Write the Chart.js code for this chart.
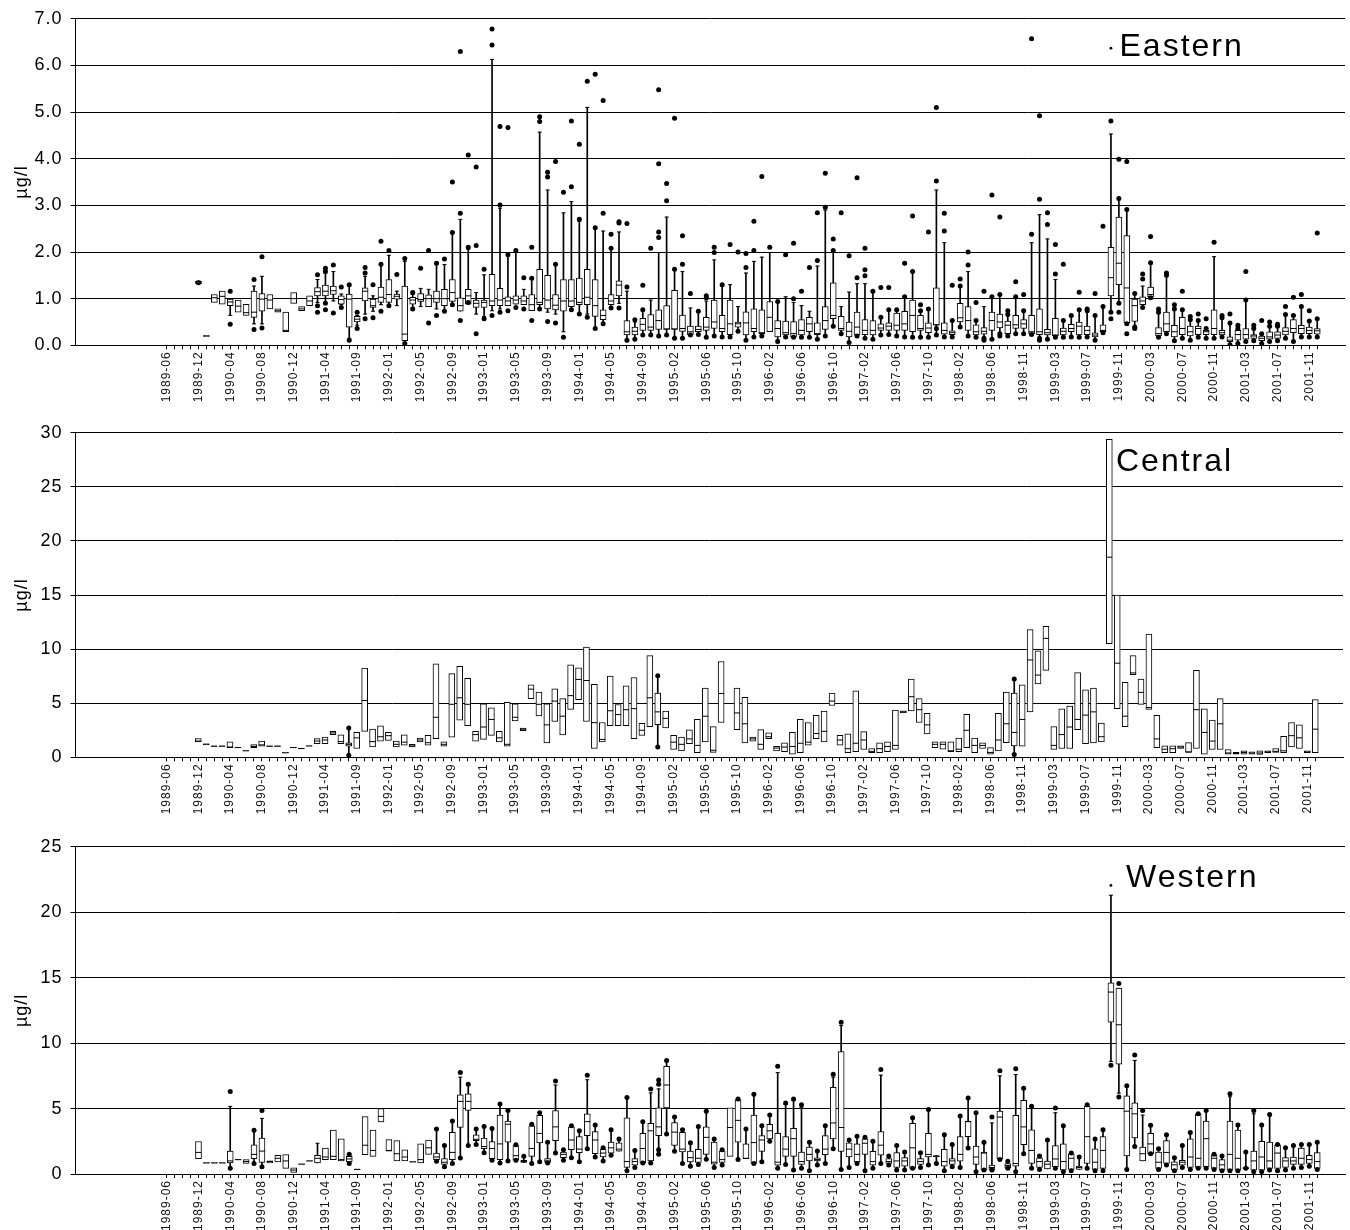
<!DOCTYPE html>
<html>
<head>
<meta charset="utf-8">
<script src="https://cdn.jsdelivr.net/npm/chart.js@4.4.1/dist/chart.umd.min.js"></script>
<style>
  body { margin: 0; background: #fff; width: 1350px; height: 1230px; position: relative; overflow: hidden; }
  canvas { position: absolute; left: 0; }
</style>
</head>
<body>
<canvas id="east" width="1350" height="412" style="top:0px"></canvas>
<canvas id="central" width="1350" height="412" style="top:414px"></canvas>
<canvas id="west" width="1350" height="402" style="top:828px"></canvas>
<script>
// sampling months run along x as category index 0..159; only every 4th one is labelled
const NCAT = 160;
const FIRST = 15;          // first category with samples (1989-12)
const TICK_FIRST = 11;     // category of 1989-06
const TICK_LAST = 156;
const tickLabels = ['1989-06','1989-12','1990-04','1990-08','1990-12','1991-04','1991-09','1992-01','1992-05','1992-09',
  '1993-01','1993-05','1993-09','1994-01','1994-05','1994-09','1995-02','1995-06','1995-10','1996-02',
  '1996-06','1996-10','1997-02','1997-06','1997-10','1998-02','1998-06','1998-11','1999-03','1999-07',
  '1999-11','2000-03','2000-07','2000-11','2001-03','2001-07','2001-11'];

// box rows: [whisker low, q1, median, q3, whisker high], row k = category FIRST + k
const eastStats = [
  [1.30,1.32,1.35,1.37,1.38],[0.19,0.19,0.20,0.21,0.21],[0.92,0.92,1.02,1.09,1.09],[0.88,0.88,1.05,1.16,1.16],[0.64,0.85,0.93,0.99,0.99], // 15
  [0.71,0.71,0.84,0.97,0.97],[0.64,0.64,0.70,0.88,0.88],[0.46,0.60,0.71,1.16,1.27],[0.46,0.73,0.99,1.11,1.48],[0.78,0.78,0.97,1.09,1.09], // 20
  [0.71,0.71,0.74,0.78,0.78],[0.29,0.29,0.32,0.71,0.71],[0.90,0.90,1.00,1.13,1.13],[0.74,0.74,0.78,0.83,0.83],[0.85,0.85,0.95,1.06,1.06], // 25
  [0.92,1.06,1.15,1.24,1.41],[0.92,1.06,1.16,1.29,1.55],[0.95,1.09,1.17,1.27,1.58],[0.87,0.88,0.98,1.06,1.10],[0.15,0.39,0.99,1.10,1.27], // 30
  [0.43,0.50,0.56,0.62,0.64],[0.67,0.95,1.16,1.23,1.48],[0.73,0.81,0.85,0.99,1.06],[0.87,0.92,1.03,1.25,1.72],[0.85,0.92,1.09,1.41,1.93], // 35
  [0.85,0.99,1.05,1.10,1.16],[0.04,0.10,0.24,1.27,1.80],[0.81,0.88,0.97,1.03,1.09],[0.83,0.94,0.98,1.11,1.22],[0.83,0.83,1.00,1.08,1.20], // 40
  [0.78,0.92,1.00,1.16,1.76],[0.73,0.85,1.00,1.20,1.73],[0.87,0.94,1.13,1.41,2.42],[0.73,0.73,0.85,1.02,2.70],[0.88,0.88,1.06,1.20,2.06], // 45
  [0.67,0.81,0.90,0.97,1.13],[0.62,0.81,0.92,0.97,1.51],[0.74,0.85,0.95,1.52,6.13],[0.78,0.85,0.97,1.22,2.94],[0.85,0.85,0.95,1.04,1.94], // 50
  [0.88,0.88,0.97,1.06,2.00],[0.87,0.87,0.95,1.06,1.20],[0.74,0.74,0.87,1.09,1.41],[0.78,0.87,0.92,1.63,4.57],[0.71,0.78,0.97,1.50,3.33], // 55
  [0.67,0.76,0.86,1.09,1.74],[0.29,0.73,0.95,1.41,2.84],[0.76,0.83,0.95,1.41,3.08],[0.67,0.87,0.92,1.44,2.66],[0.67,0.87,1.03,1.63,5.10], // 60
  [0.36,0.62,0.85,1.41,2.52],[0.46,0.55,0.64,0.76,2.45],[0.83,0.87,0.95,1.09,2.08],[0.90,1.06,1.29,1.38,2.43],[0.11,0.22,0.29,0.53,1.16], // 65
  [0.13,0.22,0.30,0.39,0.50],[0.22,0.32,0.45,0.58,0.74],[0.22,0.32,0.39,0.66,0.97],[0.20,0.34,0.53,0.76,1.99],[0.22,0.34,0.35,0.85,2.75], // 70
  [0.15,0.34,0.35,1.18,1.63],[0.15,0.30,0.36,0.65,1.58],[0.22,0.23,0.29,0.41,0.80],[0.23,0.29,0.34,0.41,0.73],[0.17,0.32,0.39,0.60,0.95], // 75
  [0.20,0.36,0.50,0.97,1.83],[0.18,0.29,0.36,0.64,1.27],[0.18,0.23,0.46,0.97,1.30],[0.30,0.39,0.46,0.50,0.83],[0.11,0.22,0.48,0.72,1.55], // 80
  [0.18,0.29,0.36,0.78,1.80],[0.20,0.25,0.27,0.76,1.89],[0.29,0.29,0.60,0.94,1.99],[0.11,0.18,0.36,0.53,0.92],[0.18,0.22,0.27,0.52,1.04], // 85
  [0.17,0.18,0.25,0.51,0.92],[0.17,0.22,0.32,0.55,0.85],[0.17,0.29,0.46,0.60,0.73],[0.13,0.23,0.25,0.48,1.70],[0.20,0.34,0.53,0.83,2.90], // 90
  [0.41,0.57,0.64,1.34,2.03],[0.25,0.32,0.36,0.62,0.83],[0.06,0.18,0.30,0.50,1.14],[0.20,0.22,0.39,0.71,1.32],[0.15,0.23,0.32,0.55,1.32], // 95
  [0.13,0.22,0.32,0.53,1.16],[0.22,0.32,0.37,0.46,0.60],[0.23,0.32,0.41,0.48,0.76],[0.20,0.32,0.43,0.69,0.74],[0.18,0.32,0.46,0.73,1.04], // 100
  [0.17,0.29,0.64,0.97,1.58],[0.17,0.32,0.36,0.64,0.74],[0.17,0.27,0.37,0.48,0.78],[0.22,0.43,0.44,1.23,3.33],[0.18,0.24,0.32,0.48,2.20], // 105
  [0.18,0.23,0.27,0.31,0.53],[0.39,0.50,0.59,0.90,1.27],[0.20,0.32,0.53,0.83,1.58],[0.17,0.22,0.29,0.44,0.53],[0.11,0.24,0.30,0.38,0.83], // 110
  [0.13,0.32,0.53,0.71,1.04],[0.20,0.37,0.50,0.67,1.09],[0.20,0.25,0.43,0.52,0.66],[0.25,0.36,0.44,0.64,1.04],[0.25,0.36,0.46,0.55,0.74], // 115
  [0.23,0.25,0.29,0.64,2.20],[0.11,0.23,0.29,0.78,2.80],[0.13,0.22,0.27,0.34,2.28],[0.17,0.20,0.22,0.58,1.41],[0.17,0.22,0.30,0.37,0.53], // 120
  [0.18,0.29,0.36,0.45,0.64],[0.17,0.22,0.41,0.50,0.76],[0.18,0.23,0.32,0.41,0.74],[0.11,0.18,0.22,0.27,0.64],[0.27,0.29,0.32,0.44,0.83], // 125
  [0.71,1.06,1.45,2.10,4.53],[0.90,1.30,1.76,2.75,3.15],[0.46,0.48,1.23,2.35,2.91],[0.39,0.51,0.85,0.99,1.11],[0.81,0.87,0.95,1.04,1.27], // 130
  [1.02,1.04,1.09,1.25,1.77],[0.17,0.20,0.25,0.38,0.71],[0.25,0.29,0.46,0.71,1.50],[0.10,0.18,0.29,0.43,0.78],[0.15,0.23,0.36,0.60,0.76], // 135
  [0.11,0.20,0.29,0.41,0.55],[0.17,0.23,0.36,0.41,0.53],[0.15,0.23,0.29,0.32,0.36],[0.15,0.23,0.36,0.76,1.90],[0.18,0.22,0.27,0.32,0.59], // 140
  [0.01,0.08,0.11,0.18,0.48],[0.04,0.11,0.23,0.32,0.36],[0.08,0.13,0.23,0.36,0.97],[0.10,0.15,0.20,0.23,0.36],[0.04,0.10,0.15,0.20,0.25], // 145
  [0.08,0.13,0.18,0.29,0.41],[0.10,0.15,0.22,0.29,0.41],[0.15,0.22,0.30,0.38,0.66],[0.08,0.27,0.36,0.55,0.64],[0.18,0.25,0.36,0.43,0.83], // 150
  [0.18,0.25,0.32,0.39,0.52],[0.18,0.24,0.31,0.36,0.57] // 155
];
// outliers: [category, values...]
const eastOutliers = [
  [19,1.16,0.45],[22,1.41,0.34],[23,1.90,0.37],[30,1.51,0.85,0.71],[31,1.65,1.58,0.90,0.76],[32,1.72,0.69],[33,1.25,0.81],[34,1.30,0.11],
  [35,0.71,0.36],[36,1.67,1.55,0.57],[37,1.30,0.59],[38,2.23,1.74,0.73],[39,2.03,0.85],[40,1.52],[41,1.86,0.04],[42,1.13,0.78],[43,1.65],
  [44,2.03,0.48],[45,1.76,0.64],[46,1.85,0.73],[47,3.50,2.42,0.87],[48,6.30,2.83,0.53],[49,4.08,2.10,0.92],[50,3.82,2.14,0.25],[51,1.63,0.57],
  [52,6.78,6.44,0.64],[53,4.69,3.01,0.71],[54,4.67,1.94,0.74],[55,2.03,0.81],[56,1.45,0.78],[57,2.10,1.44,0.53],[58,4.90,4.80,0.78],
  [59,3.71,3.61,0.51],[60,3.94,1.74,0.48],[61,3.28,0.17],[62,4.81,3.40,0.76],[63,4.31,2.70,0.67],[64,5.66,0.60],[65,5.81,2.52,0.36],
  [66,5.25,2.83,0.46],[67,2.38,2.08,0.80],[68,2.65,2.62,0.80],[69,2.61,1.25,0.11],[70,0.55,0.13],[71,1.29,0.76,0.22],[72,2.08,0.22],
  [73,5.48,3.89,2.43,2.31,0.20],[74,3.47,3.10,0.22],[75,4.87,1.63,0.15],[76,2.35,1.74,0.15],[77,1.11,0.22],[78,0.73,0.23],[79,1.06,1.02,0.17],
  [80,2.10,1.99,0.20],[81,1.30,0.18],[82,2.16,0.18],[83,2.00,0.30],[84,1.97,1.67,0.11],[85,2.66,2.03,0.18],[86,3.62,0.20],[87,2.10],
  [88,0.94,0.08],[89,1.94,0.18],[90,2.19,1.00,0.17],[91,1.16,0.17],[92,1.67,0.17],[93,2.84,1.82,0.13],[94,3.69,2.96,0.20],[95,2.28,2.03,0.41],
  [96,2.84,0.25],[97,1.92,0.06],[98,3.59,1.45,0.20],[99,2.08,1.62,1.49,0.15],[100,1.16,0.13],[101,1.24,0.60,0.22],[102,1.24,0.76,0.23],
  [103,0.76,0.20],[104,1.76,1.04,0.18],[105,2.77,1.58,0.17],[106,0.87,0.74,0.17],[107,2.43,0.78,0.17],[108,5.10,3.52,0.36,0.22],
  [109,2.83,2.45,0.18],[110,1.29,0.53,0.18],[111,1.42,1.27,0.39],[112,2.00,1.72,0.20],[113,0.92,0.53,0.17],[114,1.16,0.15,0.11],
  [115,3.22,1.04,0.13],[116,2.75,1.09,0.25,0.20],[117,0.74,0.66,0.20],[118,1.36,1.04,0.25],[119,1.09,0.74,0.25],[120,6.57,2.38,0.23],
  [121,4.92,3.13,0.15,0.11],[122,2.84,2.59,0.13],[123,2.16,1.53,0.17],[124,1.74,0.53,0.17],[125,0.64,0.18],[126,1.14,0.76,0.17],
  [127,0.78,0.74,0.18],[128,1.11,0.64,0.11],[129,2.55,0.83,0.27],[130,4.81,0.71,0.57],[131,3.99,3.15,0.90,0.71],[132,3.94,2.91,0.46,0.25],
  [133,1.11,0.39,0.36],[134,1.53,1.42,0.81],[135,2.33,1.77,1.02],[136,0.78,0.71,0.17],[137,1.55,1.50,0.25],[138,0.87,0.78,0.10],
  [139,1.16,0.76,0.15],[140,0.62,0.55,0.11],[141,0.67,0.53,0.17],[142,0.57,0.36,0.15],[143,2.21,0.15],[144,0.64,0.59,0.18],
  [145,0.67,0.48,0.01],[146,0.43,0.36,0.04],[147,1.58,0.97,0.08],[148,0.43,0.36,0.10],[149,0.53,0.25,0.04],[150,0.50,0.41,0.08],
  [151,0.45,0.41,0.10],[152,0.83,0.66,0.15],[153,1.03,0.64,0.08],[154,1.09,0.83,0.18],[155,0.74,0.52,0.18],[156,2.41,0.57,0.18]
];
const eastMarks = [[130, 6.37]];

const centralStats = [
  [1.42,1.42,1.50,1.72,1.72],[1.15,1.15,1.20,1.25,1.25],[1.00,1.00,1.02,1.05,1.05],[1.00,1.00,1.02,1.05,1.05],[0.90,0.90,0.95,1.42,1.42], // 15
  [0.88,0.88,0.90,0.92,0.92],[0.58,0.58,0.60,0.62,0.62],[0.90,0.90,1.00,1.17,1.17],[1.02,1.02,1.15,1.50,1.50],[1.00,1.00,1.02,1.05,1.05], // 20
  [1.00,1.00,1.02,1.05,1.05],[0.40,0.40,0.42,0.45,0.45],[0.88,0.88,0.90,0.92,0.92],[0.79,0.79,0.81,0.83,0.83],[1.03,1.03,1.05,1.07,1.07], // 25
  [1.27,1.27,1.50,1.72,1.72],[1.27,1.27,1.60,1.87,1.87],[2.10,2.10,2.25,2.40,2.40],[1.27,1.27,1.45,2.08,2.08],[0.20,1.02,1.20,1.33,2.70], // 30
  [0.81,0.81,1.80,2.32,2.32],[2.40,2.40,5.25,8.25,8.25],[0.96,0.96,1.45,2.62,2.62],[1.50,1.50,1.90,2.92,2.92],[1.57,1.57,2.00,2.32,2.32], // 35
  [0.96,0.96,1.20,1.50,1.50],[1.11,1.11,1.40,2.08,2.08],[0.96,0.96,1.05,1.20,1.20],[1.42,1.42,1.60,1.78,1.78],[1.11,1.11,1.35,2.02,2.02], // 40
  [1.72,1.72,3.70,8.64,8.64],[1.02,1.02,1.20,1.42,1.42],[1.87,1.87,4.90,7.74,7.74],[3.43,3.43,5.50,8.40,8.40],[2.92,2.92,4.90,7.29,7.29], // 45
  [1.50,1.50,2.10,2.40,2.40],[1.66,1.66,2.80,4.94,4.94],[2.02,2.02,3.50,4.58,4.58],[1.42,1.42,1.80,2.40,2.40],[1.02,1.02,1.20,5.09,5.09], // 50
  [3.37,3.37,3.70,4.94,4.94],[2.47,2.47,2.60,2.71,2.71],[5.42,5.42,6.30,6.69,6.69],[3.83,3.83,4.90,6.02,6.02],[1.33,1.33,3.00,4.94,4.94], // 55
  [3.31,3.31,5.20,6.33,6.33],[2.08,2.08,3.80,5.42,5.42],[4.43,4.43,5.70,8.55,8.55],[5.33,5.33,7.20,8.28,8.28],[3.31,3.31,7.10,10.20,10.20], // 60
  [0.81,0.81,3.20,6.75,6.75],[1.42,1.42,1.65,3.22,3.22],[2.92,2.92,4.30,7.50,7.50],[2.92,2.92,3.95,4.88,4.88],[2.92,2.92,4.40,6.60,6.60], // 65
  [1.72,1.72,4.50,7.38,7.38],[2.02,2.02,2.50,3.13,3.13],[2.83,2.83,5.50,9.40,9.40],[0.96,3.01,4.20,5.93,7.53],[2.71,2.71,3.60,4.28,4.28], // 70
  [0.72,0.72,1.40,2.02,2.02],[0.60,0.60,1.20,1.87,1.87],[1.27,1.27,1.70,2.53,2.53],[0.42,0.42,1.10,3.52,3.52],[1.42,1.42,3.80,6.39,6.39], // 75
  [0.45,0.45,0.65,2.83,2.83],[3.22,3.22,5.90,8.86,8.86],null,[2.56,2.56,4.10,6.39,6.39],[1.33,1.33,3.10,5.54,5.54], // 80
  [1.50,1.50,1.70,1.87,1.87],[0.72,0.72,1.20,2.56,2.56],[1.72,1.72,1.90,2.26,2.26],[0.60,0.60,0.85,1.02,1.02],[0.51,0.51,0.95,1.33,1.33], // 85
  [0.30,0.30,1.00,2.32,2.32],[0.42,0.42,1.30,3.52,3.52],[1.11,1.11,1.40,3.22,3.22],[1.72,1.72,2.20,3.89,3.89],[1.42,1.42,2.40,4.28,4.28], // 90
  [4.79,4.79,5.20,5.93,5.93],[1.11,1.11,1.60,2.02,2.02],[0.42,0.42,0.80,2.17,2.17],[0.51,0.51,1.30,6.15,6.15],[0.72,0.72,1.60,2.38,2.38], // 95
  [0.42,0.42,0.55,0.81,0.81],[0.42,0.42,0.80,1.33,1.33],[0.51,0.51,1.00,1.42,1.42],[0.72,0.72,1.10,4.37,4.37],[4.10,4.10,4.20,4.30,4.30], // 100
  [4.28,4.28,5.60,7.23,7.23],[3.22,3.22,4.40,5.42,5.42],[2.17,2.17,3.00,4.07,4.07],[0.90,0.90,1.20,1.42,1.42],[0.75,0.75,1.20,1.42,1.42], // 105
  [0.51,0.51,0.60,1.42,1.42],[0.51,0.51,0.75,1.78,1.78],[0.90,0.90,2.50,3.98,3.98],[0.42,0.42,1.10,1.78,1.78],[0.81,0.81,1.10,1.33,1.33], // 110
  [0.30,0.30,0.45,0.90,0.90],[0.60,0.60,1.60,4.07,4.07],[1.36,1.36,3.10,6.02,6.02],[0.27,1.05,2.30,5.93,7.23],[1.02,1.02,3.50,6.69,6.69], // 115
  [4.19,4.19,9.00,11.80,11.80],[6.78,6.78,7.60,9.85,9.85],[8.04,8.04,11.00,12.10,12.10],[0.72,0.72,1.10,2.83,2.83],[0.81,0.81,2.10,4.49,4.49], // 120
  [0.81,0.81,2.80,4.73,4.73],[2.56,2.56,3.50,7.83,7.83],[1.27,1.27,3.90,6.23,6.23],[1.33,1.33,4.20,6.39,6.39],[1.42,1.42,1.90,3.16,3.16], // 125
  [10.50,10.50,18.50,29.40,29.40],[4.49,4.49,8.70,15.00,15.00],[2.83,2.83,3.80,6.93,6.93],[7.65,7.65,7.80,9.40,9.40],[4.88,4.88,6.00,7.23,7.23], // 130
  [4.43,4.43,4.60,11.40,11.40],[0.90,0.90,1.70,3.89,3.89],[0.42,0.42,0.75,1.05,1.05],[0.42,0.42,0.80,1.05,1.05],[0.81,0.81,0.95,1.05,1.05], // 135
  [0.45,0.45,0.50,1.36,1.36],[0.81,0.81,4.40,8.04,8.04],[0.30,0.30,2.30,4.49,4.49],[0.72,0.72,1.50,3.43,3.43],[0.72,0.72,3.10,5.42,5.42], // 140
  [0.30,0.30,0.40,0.72,0.72],[0.30,0.30,0.35,0.45,0.45],[0.30,0.30,0.45,0.60,0.60],[0.30,0.30,0.40,0.51,0.51],[0.27,0.27,0.40,0.60,0.60], // 145
  [0.42,0.42,0.50,0.60,0.60],[0.45,0.45,0.55,0.81,0.81],[0.42,0.42,0.60,1.93,1.93],[0.96,0.96,2.00,3.22,3.22],[0.81,0.81,1.80,3.01,3.01], // 150
  [0.42,0.42,0.50,0.60,0.60],[0.42,0.42,2.60,5.33,5.33] // 155
];
const centralOutliers = [[34,2.70,0.20],[73,7.53,0.96],[118,7.23,0.27]];

const westStats = [
  [1.18,1.18,1.65,2.48,2.48],[0.83,0.83,0.85,0.87,0.87],[0.83,0.83,0.85,0.87,0.87],[0.83,0.83,0.85,0.87,0.87],[0.43,0.85,1.00,1.75,5.17], // 15
  [1.08,1.08,1.10,1.12,1.12],[0.80,0.80,0.95,1.10,1.10],[0.80,1.18,1.50,2.22,3.30],[0.55,0.88,1.75,2.75,4.25],[0.85,0.85,0.95,1.00,1.00], // 20
  [0.93,0.93,1.20,1.43,1.43],[0.43,0.43,1.00,1.48,1.48],[0.13,0.13,0.30,0.48,0.48],[0.73,0.73,0.75,0.77,0.77],[0.98,0.98,1.00,1.02,1.02], // 25
  [0.85,0.85,1.20,1.43,2.35],[1.10,1.10,1.30,1.98,1.98],[1.10,1.10,1.35,3.35,3.35],[1.00,1.00,1.10,2.68,2.68],[0.80,0.93,1.15,1.35,1.50], // 30
  [0.33,0.33,0.35,0.37,0.37],[1.48,1.48,2.20,4.38,4.38],[1.35,1.35,1.80,3.35,3.35],[3.98,3.98,4.40,5.00,5.00],[1.75,1.75,1.80,2.63,2.63], // 35
  [1.00,1.00,1.55,2.55,2.55],[1.00,1.00,1.30,1.85,1.85],[0.91,0.91,0.93,0.95,0.95],[0.85,0.85,1.10,2.30,2.30],[1.50,1.50,2.00,2.60,2.60], // 40
  [0.98,1.10,1.30,1.60,3.43],[0.55,0.73,0.90,1.18,2.18],[0.80,1.10,1.65,3.18,4.05],[1.23,3.55,5.55,6.05,7.40],[2.18,4.85,5.55,6.13,6.80], // 45
  [2.25,2.55,2.65,3.00,3.43],[1.63,1.93,2.10,2.75,3.63],[1.05,1.18,1.95,2.48,3.43],[0.85,1.10,2.30,4.50,5.35],[1.00,2.43,3.80,4.05,4.85], // 50
  [1.05,1.05,1.40,2.18,2.23],[0.88,0.88,0.95,1.05,1.35],[0.80,1.35,1.95,3.68,3.80],[0.93,2.38,3.10,4.48,4.68],[0.85,0.88,1.00,1.18,2.43], // 55
  [1.60,2.55,3.60,4.85,6.80],[1.05,1.25,1.50,1.68,1.85],[1.25,1.85,2.60,3.60,3.68],[0.93,1.63,1.90,2.85,3.30],[1.93,2.93,4.00,4.60,7.20], // 60
  [1.30,1.55,2.60,3.25,3.75],[1.00,1.30,1.60,1.93,2.00],[1.43,1.60,2.00,2.43,3.38],[1.75,1.75,1.90,2.38,2.68],[0.25,0.50,0.95,4.30,5.85], // 65
  [0.50,0.68,0.95,1.18,1.80],[0.85,0.85,1.95,3.10,4.00],[0.85,1.00,3.30,3.88,6.20],[1.50,2.93,3.60,5.05,6.50],[3.05,5.05,6.80,8.23,8.68], // 70
  [1.73,2.18,3.20,3.93,4.35],[0.80,1.68,1.90,3.18,3.38],[0.60,0.93,1.25,1.75,2.38],[0.73,0.88,1.20,1.88,3.63],[1.13,1.50,2.80,3.60,4.80], // 75
  [0.50,0.75,0.90,2.43,2.68],[0.68,0.88,1.10,1.75,1.85],[1.35,1.35,3.55,5.05,5.05],[1.10,2.43,4.10,5.68,5.73],[1.18,1.18,1.20,2.30,3.43], // 80
  [0.80,0.80,2.40,4.50,6.10],[0.93,1.73,2.60,2.93,3.68],[2.50,2.68,3.30,3.80,4.50],[0.43,0.68,0.90,3.10,7.75],[0.73,1.35,1.90,2.85,5.30], // 85
  [0.30,1.35,2.70,3.48,5.60],[0.43,0.73,0.95,1.68,5.10],[0.25,1.00,1.50,2.05,2.43],[0.68,1.00,1.10,1.23,1.75],[0.80,1.48,1.90,2.93,3.68], // 90
  [1.93,2.68,3.90,6.63,7.40],[0.35,1.73,3.55,9.35,11.35],[0.50,1.30,1.90,2.38,2.60],[0.80,0.93,1.50,2.30,2.88],[0.25,1.50,2.35,2.68,2.80], // 95
  [0.43,0.68,0.95,1.73,2.50],[0.80,1.43,2.20,3.25,7.55],[0.68,0.80,0.95,1.18,1.38],[0.30,0.50,1.00,1.63,2.18],[0.30,0.60,1.00,1.25,1.68], // 100
  [0.43,0.43,2.00,3.88,4.30],[0.50,0.73,0.95,1.18,1.63],[0.68,1.30,1.50,3.10,4.93],[0.80,1.30,1.35,1.40,1.40],[0.25,0.60,0.95,1.88,3.00], // 105
  [0.55,0.73,1.00,1.18,2.25],[0.50,0.98,1.50,2.85,4.43],[1.98,2.85,4.00,4.05,5.80],[0.18,0.73,1.30,2.13,4.68],[0.30,0.30,1.60,1.68,2.43], // 110
  [0.30,0.30,0.50,0.68,3.90],[1.10,1.18,4.35,4.80,7.50],[0.43,0.48,0.65,0.80,0.98],[0.18,0.60,0.80,4.48,7.60],[1.55,2.25,3.60,5.63,6.55], // 115
  [0.43,0.80,1.80,3.38,5.18],[0.35,0.50,0.95,1.23,1.38],[0.38,0.38,0.75,0.98,2.60],[0.43,0.55,1.15,2.18,4.68],[0.18,0.30,0.95,2.30,3.68], // 120
  [0.25,0.35,1.20,1.55,1.60],[0.35,0.35,0.50,0.60,1.30],[0.43,0.80,2.85,5.18,5.30],[0.25,0.35,0.90,1.93,2.68],[0.25,0.43,1.80,2.85,3.38], // 125
  [8.60,11.60,13.90,14.60,21.30],[6.18,8.40,11.40,14.20,14.20],[0.35,1.38,4.80,5.98,6.70],[2.10,2.75,4.60,5.43,8.68],[1.00,1.00,1.55,2.05,4.50], // 130
  [1.55,1.55,2.30,3.10,3.73],[0.35,0.43,0.90,1.68,1.93],[0.68,0.80,1.65,2.55,3.00],[0.25,0.30,0.70,0.93,1.25],[0.50,0.68,0.90,1.05,2.18], // 135
  [0.35,0.50,1.30,2.68,3.18],[0.43,0.50,1.20,4.60,4.60],[0.43,0.55,2.70,4.05,4.85],[0.35,0.43,1.20,1.43,1.50],[0.25,0.30,0.70,1.10,1.38], // 140
  [0.25,0.30,1.50,4.05,5.90],[0.25,0.30,1.20,3.35,3.75],[0.43,0.43,0.45,0.50,1.68],[0.18,0.30,1.00,1.75,4.60],[0.18,0.30,1.30,2.50,3.75], // 145
  [0.30,0.43,1.00,2.43,4.55],[0.25,0.43,1.60,2.23,2.25],[0.30,0.50,1.00,1.25,2.00],[0.43,0.73,1.00,1.30,2.18],[0.50,0.73,1.20,1.98,2.25], // 150
  [0.60,0.80,1.10,1.43,2.25],[0.35,0.43,0.95,1.63,2.43] // 155
];
const westOutliers = [
  [19,6.30,0.43],[22,3.35,0.80],[23,4.85,0.55],[34,1.50,0.80],[45,3.43,0.98],[46,2.18,0.55],[47,4.05,0.80],[48,7.75,1.23],[49,6.85,2.18],
  [50,3.43,2.25],[51,3.63,1.63],[52,3.48,1.05],[53,5.35,0.85],[54,4.85,1.00],[55,2.23,1.05],[56,1.35],[57,3.80,0.80],[58,4.68,0.93],
  [59,2.43,0.85],[60,7.10,1.60],[61,1.85,1.05],[62,3.68,1.25],[63,3.30,0.93],[64,7.55,1.93],[65,3.75,1.30],[66,2.00,1.00],[67,3.38,1.43],
  [68,2.68],[69,5.85,0.25],[70,1.80,0.50],[71,4.00,0.85],[72,6.50,0.85],[73,7.18,6.85,1.85,1.50],[74,8.68,3.05],[75,4.35,1.73],
  [76,3.38,0.80],[77,2.38,0.60],[78,3.63,0.73],[79,4.80,1.13],[80,2.68,0.50],[81,1.85,0.68],[83,5.73,1.10],[84,3.43],[85,6.10,0.80],
  [86,3.68,0.93],[87,4.50,2.50],[88,8.23,0.43],[89,5.43,0.73],[90,5.73,0.30],[91,5.30,0.43],[92,2.43,0.25],[93,1.75,0.68],[94,3.68,0.80],
  [95,7.63,1.93],[96,11.60,0.35],[97,2.60,0.50],[98,2.88,0.80],[99,2.80,0.25],[100,2.50,0.43],[101,7.98,0.80],[102,1.38,0.68],
  [103,2.18,0.30],[104,1.68,0.30],[105,4.30,0.43],[106,1.63,0.50],[107,4.93,0.68],[108,0.80],[109,3.00,0.25],[110,2.25,0.55],
  [111,4.43,0.50],[112,5.80,1.98],[113,4.68,0.18],[114,2.43,0.30],[115,4.35,0.30],[116,7.88,1.10],[117,0.98,0.43],[118,8.05,0.18],
  [119,6.55,1.55],[120,5.18,0.43],[121,1.38,0.35],[122,2.60],[123,5.05,0.43],[124,3.68,0.18],[125,1.60,0.25],[126,1.30],[127,5.30,0.43],
  [128,2.68,0.25],[129,3.38,0.25],[130,8.30],[131,14.55,5.88],[132,6.75,0.35],[133,9.10,2.10],[134,4.85],[135,3.73,1.55],[136,1.93,0.35],
  [137,3.00,0.68],[138,1.25,0.25],[139,2.18,0.50],[140,3.18,0.35],[141,4.60,0.43],[142,4.85,0.43],[143,1.50,0.35],[144,1.38,0.25],
  [145,6.13,0.25],[146,3.75,0.25],[147,1.68,0.43],[148,4.85,0.18],[149,3.75,0.18],[150,4.55,0.30],[151,2.25,0.25],[152,2.00,0.30],
  [153,2.18,0.43],[154,2.25,0.50],[155,2.25,0.60],[156,2.43,0.35]
];
const westMarks = [[130, 22.05]];

const FONT = '"Liberation Sans", Arial, sans-serif';
const labelAt = new Map(tickLabels.map((t, k) => [TICK_FIRST + 4 * k, t]));

// letter spacing for all chart text + the panel name in the top right
const panelText = {
  id: 'panelText',
  beforeDraw(chart) { chart.ctx.letterSpacing = '1px'; },
  afterDraw(chart, args, opts) {
    const ctx = chart.ctx;
    ctx.save();
    ctx.letterSpacing = '2px';
    ctx.font = '32px ' + FONT;
    ctx.fillStyle = '#000';
    ctx.textBaseline = 'alphabetic';
    ctx.fillText(opts.text, opts.x, opts.y);
    ctx.restore();
  }
};

function boxDatasets(stats, outliers, marks) {
  const whisk = [], caps = [], boxes = [], meds = [], pts = [], small = [];
  stats.forEach((s, k) => {
    if (!s) return;
    const x = FIRST + k;
    const [lo, q1, md, q3, hi] = s;
    if (lo < q1 || hi > q3) whisk.push({x, y: [lo, hi]});
    if (hi > q3) caps.push({x, y: hi});
    if (lo < q1) caps.push({x, y: lo});
    boxes.push({x, y: [q1, q3]});
    meds.push({x, y: md});
  });
  outliers.forEach(([x, ...vals]) => vals.forEach(v => pts.push({x, y: v})));
  marks.forEach(([x, v]) => small.push({x, y: v}));
  return [
    {type: 'bar', data: whisk, order: 4, grouped: false, barThickness: 1, backgroundColor: '#000', borderWidth: 0},
    {type: 'scatter', data: caps, order: 3, pointStyle: 'line', pointRadius: 2, borderColor: '#000', borderWidth: 1},
    {type: 'bar', data: boxes, order: 2, grouped: false, barThickness: 6, backgroundColor: '#fff',
     borderColor: '#000', borderWidth: 1, borderSkipped: false},
    {type: 'scatter', data: meds, order: 1, pointStyle: 'line', pointRadius: 3, borderColor: '#000', borderWidth: 1},
    {type: 'scatter', data: pts, order: 0, pointStyle: 'circle', pointRadius: 2.5, backgroundColor: '#000', borderWidth: 0},
    {type: 'scatter', data: small, order: 0, pointStyle: 'circle', pointRadius: 1.4, backgroundColor: '#000', borderWidth: 0}
  ];
}

function makePanel(id, p) {
  const xTicks = [];
  for (let i = TICK_FIRST; i <= TICK_LAST; i++) xTicks.push(i);
  return new Chart(document.getElementById(id), {
    type: 'bar',
    data: {datasets: boxDatasets(p.stats, p.outliers, p.marks)},
    plugins: [panelText],
    options: {
      responsive: false,
      animation: false,
      devicePixelRatio: 1,
      events: [],
      layout: {padding: {top: p.top, left: 0, right: p.right, bottom: 0}},
      plugins: {
        legend: {display: false},
        tooltip: {enabled: false},
        panelText: {text: p.title, x: p.tx, y: p.ty}
      },
      scales: {
        x: {
          type: 'linear', min: -0.5, max: NCAT - 0.5, bounds: 'data', offset: false,
          afterBuildTicks: s => { s.ticks = xTicks.map(v => ({value: v})); },
          afterFit: s => { s.height = p.xh; },
          grid: {drawOnChartArea: false, drawTicks: true, tickLength: 4, color: '#000', offset: false},
          border: {display: true, color: '#000', width: 1},
          ticks: {
            autoSkip: false, maxRotation: 90, minRotation: 90, padding: 2, color: '#111',
            font: {family: FONT, size: 12},
            callback: v => labelAt.get(v) || ''
          }
        },
        y: {
          min: 0, max: p.max,
          afterFit: s => { s.width = 75.5; },
          grid: {color: '#000', lineWidth: 1, drawTicks: true, tickLength: 5},
          border: {display: true, color: '#000', width: 1},
          ticks: {stepSize: p.step, padding: 8, color: '#000', font: {family: FONT, size: 18},
                  callback: v => v.toFixed(p.dec)},
          title: {display: true, text: 'µg/l', color: '#000', font: {family: FONT, size: 18},
                  padding: {top: 11, bottom: 0}}
        }
      }
    }
  });
}

makePanel('east', {stats: eastStats, outliers: eastOutliers, marks: eastMarks, max: 7, step: 1, dec: 1,
  top: 11.7, right: 1.5, xh: 66.7, title: 'Eastern', tx: 1119.5, ty: 56});
makePanel('central', {stats: centralStats, outliers: centralOutliers, marks: [], max: 30, step: 5, dec: 0,
  top: 11.7, right: 7, xh: 68.7, title: 'Central', tx: 1116, ty: 56.7});
makePanel('west', {stats: westStats, outliers: westOutliers, marks: westMarks, max: 25, step: 5, dec: 0,
  top: 13, right: 1, xh: 56, title: 'Western', tx: 1126, ty: 58.7});
</script>
</body>
</html>
